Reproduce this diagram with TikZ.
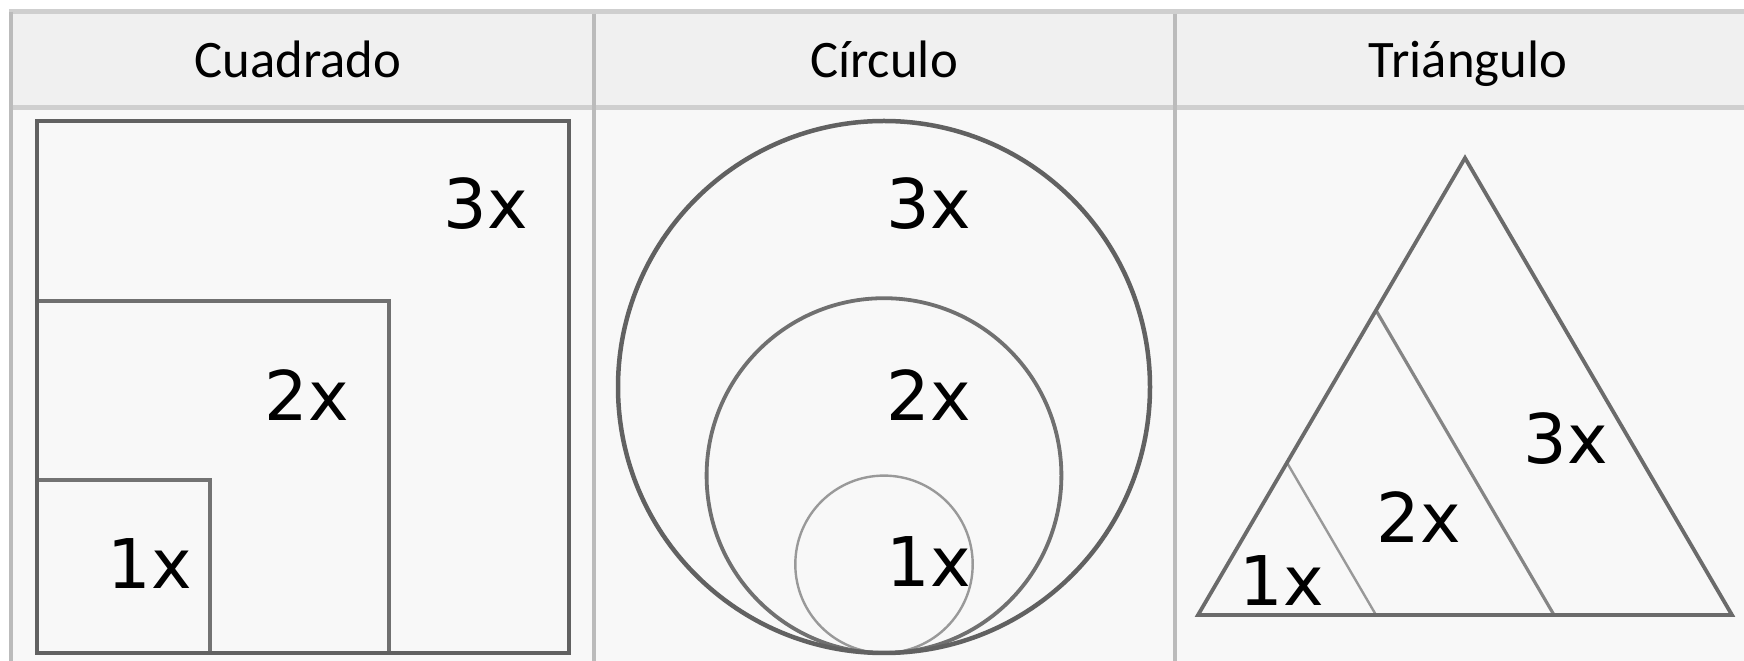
\documentclass[tikz,border=0pt]{standalone}
\usepackage{fontspec}
\newfontfamily\carlito{Carlito}
\newfontfamily\dejavu{DejaVu Sans}
\usetikzlibrary{calc}
\definecolor{ruleC}{HTML}{CFCFCF}
\definecolor{sepC}{HTML}{BBBBBB}
\definecolor{headC}{HTML}{F0F0F0}
\definecolor{bodyC}{HTML}{F8F8F8}

\begin{document}
\begin{tikzpicture}[
  x=0.1mm,y=-0.1mm,
  rule/.style={draw=ruleC,line width=0.5mm},
  sep/.style={draw=sepC,line width=0.35mm},
  head/.style={font=\carlito\fontsize{15}{18}\selectfont,anchor=base,inner sep=0pt},
  mult/.style={font=\dejavu\fontsize{19.5}{23}\selectfont,inner sep=0pt},
  big/.style={draw=black!62,line width=0.45mm},
  mid/.style={draw=black!56,line width=0.38mm},
  small/.style={draw=black!40,line width=0.24mm}
]
  \useasboundingbox (0,0) rectangle (1744,661);
  \fill[white] (0,0) rectangle (1744,661);
  \fill[headC] (11,12) rectangle (1744,108);
  \fill[bodyC] (11,108) rectangle (1744,661);
  \draw[rule] (9,12) -- (1744,12);
  \draw[rule] (11,108) -- (1744,108);
  \draw[sep] (11,12) -- (11,661);
  \draw[sep] (594,14) -- (594,661);
  \draw[sep] (1175,14) -- (1175,661);

  \node[head] (hsq) at (298,78) {Cuadrado};
  \node[head] (hci) at (884,78) {Círculo};
  \node[head] (htr) at (1468,78) {Triángulo};

  \draw[small,draw=black!55,line width=0.42mm] (37,653) rectangle ++(173,-173);
  \draw[mid,line width=0.42mm] (37,653) rectangle ++(352,-352);
  \draw[big] (37,653) rectangle ++(532,-532);
  \node[mult] (sq1) at (150,564) {1x};
  \node[mult] (sq2) at (307,395) {2x};
  \node[mult] (sq3) at (486,204) {3x};

  \draw[small] (884,564.3) circle (88.7);
  \draw[mid] (884,475.6) circle (177.4);
  \draw[big] (884,387) circle (266);
  \node[mult] (ci1) at (929,562) {1x};
  \node[mult] (ci2) at (929,395) {2x};
  \node[mult] (ci3) at (929,204) {3x};

  \coordinate (ta) at (1198,615);
  \coordinate (tb) at (1732,615);
  \coordinate (tc) at (1465,158);
  \draw[small] ($(ta)!1/3!(tc)$) -- ($(ta)!1/3!(tb)$);
  \draw[mid,draw=black!48,line width=0.32mm] ($(ta)!2/3!(tc)$) -- ($(ta)!2/3!(tb)$);
  \draw[big,draw=black!58,line width=0.38mm] (ta) -- (tc) -- (tb) -- cycle;
  \node[mult] (tr1) at (1282,581) {1x};
  \node[mult] (tr2) at (1419,517) {2x};
  \node[mult] (tr3) at (1566,439) {3x};
\end{tikzpicture}
\end{document}
